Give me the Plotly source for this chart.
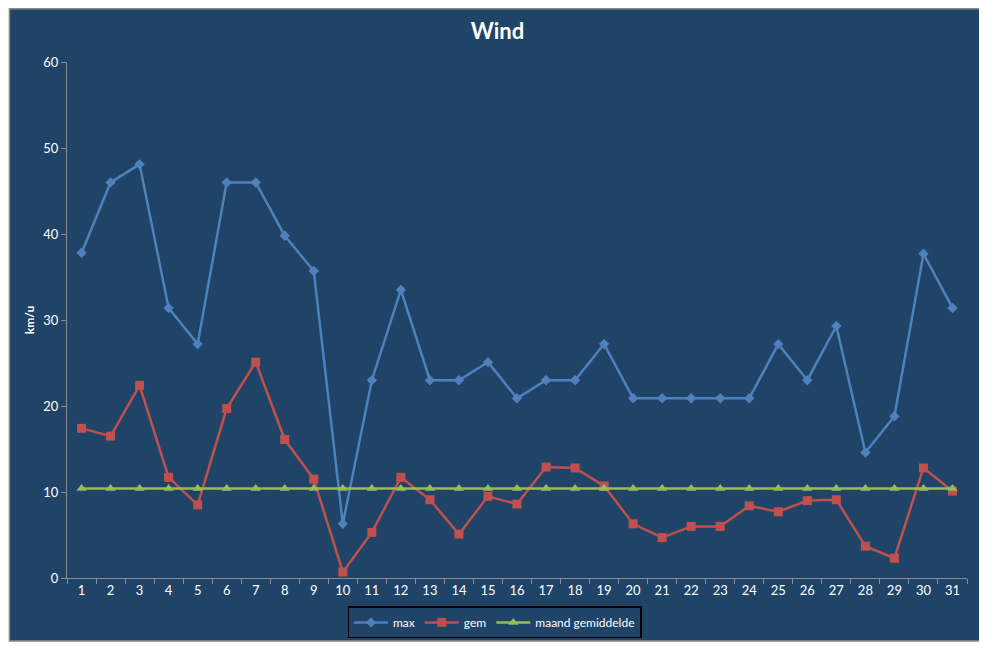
import plotly.graph_objects as go

days = [str(d) for d in range(1, 32)]

wind_max = [37.8, 46.0, 48.1, 31.4, 27.2, 46.0, 46.0, 39.8, 35.7, 6.3,
            23.0, 33.5, 23.0, 23.0, 25.1, 20.9, 23.0, 23.0, 27.2, 20.9,
            20.9, 20.9, 20.9, 20.9, 27.2, 23.0, 29.3, 14.6, 18.8, 37.7, 31.4]

wind_gem = [17.4, 16.5, 22.4, 11.7, 8.5, 19.7, 25.1, 16.1, 11.5, 0.7,
            5.3, 11.7, 9.1, 5.1, 9.5, 8.6, 12.9, 12.8, 10.7, 6.3,
            4.7, 6.0, 6.0, 8.4, 7.7, 9.0, 9.1, 3.7, 2.3, 12.8, 10.1]

maand_gem = [10.4] * 31

navy = "#1F4467"
font = "Lato, 'Open Sans', sans-serif"

fig = go.Figure()
fig.add_trace(go.Scatter(x=days, y=wind_max, name="max", mode="lines+markers",
                         line=dict(color="#4F81BD", width=2.5),
                         marker=dict(symbol="diamond", size=8, color="#4F81BD")))
fig.add_trace(go.Scatter(x=days, y=wind_gem, name="gem", mode="lines+markers",
                         line=dict(color="#C0504D", width=2.5),
                         marker=dict(symbol="square", size=9, color="#C0504D")))
fig.add_trace(go.Scatter(x=days, y=maand_gem, name="maand gemiddelde", mode="lines+markers",
                         line=dict(color="#9BBB59", width=2.5),
                         marker=dict(symbol="triangle-up", size=9, color="#9BBB59")))

# navy chart area with grey frame, drawn under the plot
fig.add_shape(type="rect", xref="paper", yref="paper",
              x0=-0.064, x1=1.0167, y0=-0.122, y1=1.103,
              fillcolor=navy, line=dict(color="#8C8C8C", width=1.5), layer="below")

fig.update_layout(
    width=979, height=640,
    margin=dict(l=59, r=20, t=54, b=70, autoexpand=False),
    paper_bgcolor="white",
    plot_bgcolor=navy,
    font=dict(family=font, color="white", size=12),
    title=dict(text="<b>Wind</b>", x=0.5, xanchor="center", y=0.964, yanchor="middle",
               font=dict(size=22, color="white", family=font)),
    showlegend=True,
    legend=dict(orientation="h", x=0.475, xanchor="center", y=-0.086, yanchor="middle",
                bgcolor=navy, bordercolor="black", borderwidth=1.5,
                font=dict(size=12, color="white"), itemwidth=34),
    xaxis=dict(type="category", range=[-0.5, 30.5], tickson="boundaries",
               ticks="outside", ticklen=5, tickcolor="#8C8C8C",
               showline=True, linecolor="#8C8C8C", linewidth=1, showgrid=False,
               tickfont=dict(size=13, color="white"), zeroline=False),
    yaxis=dict(range=[0, 60], dtick=10, ticks="outside", ticklen=5, tickcolor="#8C8C8C",
               showline=True, linecolor="#8C8C8C", linewidth=1, showgrid=False,
               zeroline=False, tickfont=dict(size=13, color="white"),
               title=dict(text="<b>km/u</b>", font=dict(size=12, color="white"), standoff=6)),
)

fig.write_html("out.html")
